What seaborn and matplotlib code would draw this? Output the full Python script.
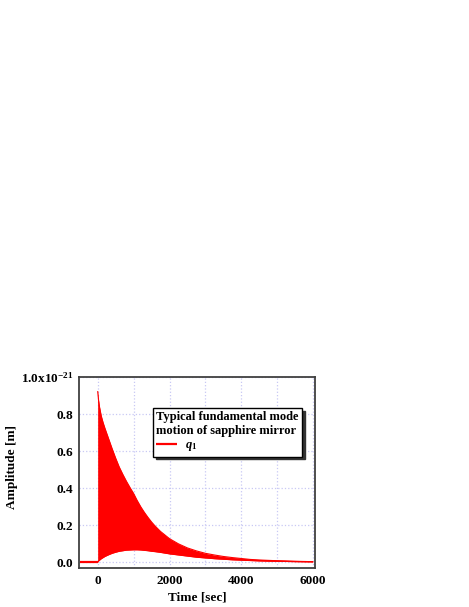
import matplotlib
matplotlib.use("Agg")
import matplotlib.pyplot as plt
import numpy as np
import pandas as pd
import seaborn as sns

# Envelope of the ringing q1 signal (units of 1e-21 m)
time_s = [0, 25, 50, 100, 150, 200, 300, 400, 500, 600, 700, 800, 900,
          1000, 1100, 1200, 1300, 1400, 1500, 1600, 1750, 2000, 2250, 2500,
          2750, 3000, 3250, 3500, 3750, 4000, 4250, 4500, 5000, 5500, 6000]
upper = [0.924, 0.875, 0.84, 0.79, 0.755, 0.725, 0.67, 0.615, 0.563, 0.515,
         0.475, 0.438, 0.404, 0.372, 0.334, 0.300, 0.270, 0.243, 0.218,
         0.196, 0.167, 0.128, 0.100, 0.078, 0.062, 0.049, 0.040, 0.032,
         0.026, 0.021, 0.016, 0.013, 0.009, 0.006, 0.004]
lower = [0.0, 0.008, 0.012, 0.020, 0.026, 0.032, 0.041, 0.049, 0.055, 0.060,
         0.063, 0.066, 0.067, 0.068, 0.068, 0.067, 0.065, 0.063, 0.060,
         0.058, 0.054, 0.046, 0.040, 0.034, 0.028, 0.024, 0.020, 0.017,
         0.014, 0.012, 0.010, 0.008, 0.006, 0.004, 0.003]
# flat part before the excitation
pre_time = [-500, 0]
pre_amp = [0.0, 0.0]

yticks = [0.0, 0.2, 0.4, 0.6, 0.8, 1.0]
ytick_labels = ["0.0", "0.2", "0.4", "0.6", "0.8", r"1.0x10$^{\mathrm{-21}}$"]
xticks = [0, 2000, 4000, 6000]

df = pd.DataFrame({"t": time_s, "upper": upper, "lower": lower})
df["mid"] = (df["upper"] + df["lower"]) / 2

sns.set_theme(style="white")
plt.rcParams["font.family"] = ["Liberation Serif", "DejaVu Serif"]
plt.rcParams["font.weight"] = "bold"
plt.rcParams["mathtext.fontset"] = "custom"
plt.rcParams["mathtext.rm"] = "Liberation Serif:bold"
plt.rcParams["mathtext.it"] = "Liberation Serif:bold:italic"
plt.rcParams["mathtext.bf"] = "Liberation Serif:bold"
plt.rcParams["lines.solid_capstyle"] = "butt"
plt.rcParams["text.color"] = "black"
plt.rcParams["axes.labelcolor"] = "black"
plt.rcParams["xtick.labelcolor"] = "black"
plt.rcParams["ytick.labelcolor"] = "black"

red = "#ff0000"
fig = plt.figure(figsize=(4.69, 6.07), dpi=100)
ax = fig.add_axes([0.1684, 0.0643, 0.5032, 0.3146])

ax.fill_between(df["t"], df["lower"], df["upper"], color=red, linewidth=0)
sns.lineplot(x=df["t"], y=df["upper"], color=red, lw=0.8, ax=ax)
sns.lineplot(x=df["t"], y=df["lower"], color=red, lw=0.8, ax=ax)
sns.lineplot(x=df["t"][5:], y=df["mid"][5:], color=red, lw=0.8, ax=ax)
ax.plot(pre_time, pre_amp, color=red, lw=1.6, label=r"$q_1$")

ax.set_xlim(-520, 6050)
ax.set_ylim(-0.03, 1.0)
ax.set_xticks(xticks)
ax.set_xticks([1000, 3000, 5000], minor=True)
ax.set_yticks(yticks)
ax.set_yticklabels(ytick_labels)
ax.grid(True, which="both", color="#c8c8f4", linestyle=":", linewidth=0.9)
ax.tick_params(axis="both", which="both", direction="in", length=4,
               width=1, color="#404040", labelsize=9.5, pad=5,
               labelcolor="black")
ax.tick_params(axis="y", pad=4)
for lab in ax.get_xticklabels() + ax.get_yticklabels():
    lab.set_fontweight("bold")
for sp in ax.spines.values():
    sp.set_color("#404040")
    sp.set_linewidth(1.3)

ax.set_xlabel("Time [sec]", fontsize=9.5, fontweight="bold", color="black")
ax.set_ylabel("Amplitude [m]", fontsize=9.5, fontweight="bold", color="black")
ax.xaxis.set_label_coords(0.5, -0.125)
ax.yaxis.set_label_coords(-0.26, 0.53)

leg = ax.legend(title="Typical fundamental mode\nmotion of sapphire mirror",
                loc="upper left", bbox_to_anchor=(0.3136, 0.8377),
                frameon=True, fancybox=False,
                shadow={"color": "#333333", "alpha": 1},
                fontsize=9, title_fontsize=9, handlelength=1.7,
                borderpad=0.25, labelspacing=0.2, handletextpad=0.6,
                borderaxespad=0)
leg._legend_box.align = "left"
leg.get_title().set_fontweight("bold")
leg.get_title().set_color("black")
for txt in leg.get_texts():
    txt.set_color("black")
frame = leg.get_frame()
frame.set_edgecolor("black")
frame.set_linewidth(1.0)
frame.set_alpha(1)

fig.savefig("out.png", dpi=100)
